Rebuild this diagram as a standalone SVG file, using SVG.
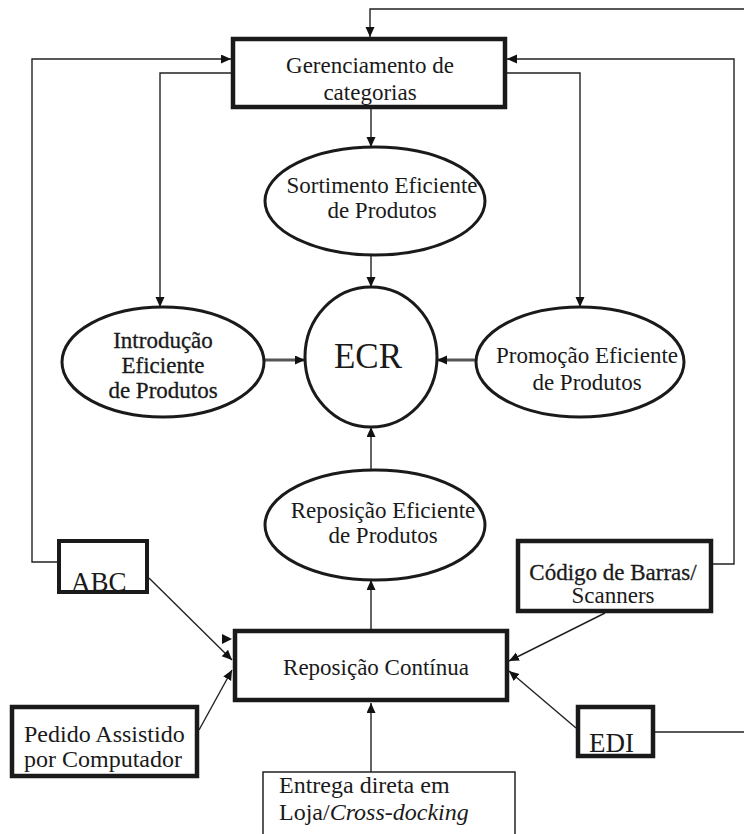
<svg xmlns="http://www.w3.org/2000/svg" width="744" height="834" viewBox="0 0 744 834">
<defs>
<marker id="arr" markerUnits="userSpaceOnUse" markerWidth="11" markerHeight="10" refX="10" refY="4.5" orient="auto">
<path d="M0,0 L10,4.5 L0,9 z" fill="#111"/>
</marker>
</defs>
<style>
.t{font-family:"Liberation Serif","Times New Roman",serif;font-size:23px;fill:#1a1a1a}
.m{text-anchor:middle}
.b{stroke:#1a1a1a;stroke-width:0.3}
.box{fill:#fff;stroke:#1a1a1a;stroke-width:4.5}
.ell{fill:#fff;stroke:#1a1a1a;stroke-width:3}
.c{fill:none;stroke:#222;stroke-width:1.4}
.ct{fill:none;stroke:#555;stroke-width:3}
</style>
<rect width="744" height="834" fill="#fff"/>
<g id="connectors">
<polyline class="c" points="744,9 370,9 370,37" marker-end="url(#arr)"/>
<polyline class="c" points="57,562 32,562 32,59 231,59" marker-end="url(#arr)"/>
<polyline class="c" points="713,564 734,564 734,59 507,59" marker-end="url(#arr)"/>
<polyline class="c" points="231,73 160,73 160,307" marker-end="url(#arr)"/>
<polyline class="c" points="507,73 580,73 580,307" marker-end="url(#arr)"/>
<line class="c" x1="371" y1="109" x2="371" y2="147" marker-end="url(#arr)"/>
<line class="c" x1="371" y1="255" x2="371" y2="287" marker-end="url(#arr)"/>
<line class="ct" x1="264" y1="360" x2="305" y2="360" marker-end="url(#arr)"/>
<line class="ct" x1="477" y1="360" x2="437" y2="360" marker-end="url(#arr)"/>
<line class="c" x1="371" y1="470" x2="371" y2="427" marker-end="url(#arr)"/>
<line class="c" x1="371" y1="629" x2="371" y2="580" marker-end="url(#arr)"/>
<line class="c" x1="371" y1="772" x2="371" y2="703" marker-end="url(#arr)"/>
<line class="c" x1="149" y1="578" x2="232" y2="660" marker-end="url(#arr)"/>
<line class="c" x1="199" y1="730" x2="232" y2="670" marker-end="url(#arr)"/>
<polygon points="222,634 232,639 222,644" fill="#111"/>
<line class="c" x1="605" y1="613" x2="509" y2="661" marker-end="url(#arr)"/>
<line class="c" x1="576" y1="728" x2="509" y2="671" marker-end="url(#arr)"/>
<line class="c" x1="654" y1="732" x2="744" y2="732"/>
</g>
<g id="gerenciamento">
<rect class="box" x="233" y="39" width="272" height="68"/>
<text class="t m" x="370" y="73">Gerenciamento de</text>
<text class="t m" x="370" y="100">categorias</text>
</g>
<g id="sortimento">
<ellipse class="ell" cx="375" cy="201" rx="110" ry="54"/>
<text class="t m" x="382" y="193">Sortimento Eficiente</text>
<text class="t m" x="382" y="218">de Produtos</text>
</g>
<g id="ecr">
<ellipse class="ell" cx="371" cy="357" rx="66" ry="70"/>
<text class="t m" x="368" y="368" style="font-size:35px">ECR</text>
</g>
<g id="introducao">
<ellipse class="ell" cx="163" cy="362" rx="101" ry="55"/>
<text class="t m b" x="163" y="348">Introdução</text>
<text class="t m b" x="163" y="373">Eficiente</text>
<text class="t m b" x="163" y="398">de Produtos</text>
</g>
<g id="promocao">
<ellipse class="ell" cx="580" cy="362" rx="104" ry="55"/>
<text class="t m" x="587" y="363">Promoção Eficiente</text>
<text class="t m" x="587" y="390">de Produtos</text>
</g>
<g id="reposicao-eficiente">
<ellipse class="ell" cx="375" cy="525" rx="110" ry="55"/>
<text class="t m" x="383" y="518">Reposição Eficiente</text>
<text class="t m" x="383" y="543">de Produtos</text>
</g>
<g id="abc">
<rect class="box" x="59" y="541" width="88" height="51" style="stroke-width:4"/>
<text class="t" x="71" y="591" style="font-size:27px">ABC</text>
</g>
<g id="codigo">
<rect class="box" x="518" y="541" width="193" height="70"/>
<text class="t m b" x="613" y="580">Código de Barras/</text>
<text class="t m" x="613" y="603">Scanners</text>
</g>
<g id="reposicao-continua">
<rect class="box" x="235" y="631" width="272" height="69"/>
<text class="t m" x="376" y="675">Reposição Contínua</text>
</g>
<g id="pedido">
<rect class="box" x="12" y="707" width="185" height="69"/>
<text class="t" x="24" y="742" style="font-size:24px">Pedido Assistido</text>
<text class="t" x="24" y="767" style="font-size:24px">por Computador</text>
</g>
<g id="edi">
<rect class="box" x="578" y="707" width="75" height="49"/>
<text class="t" x="589" y="752" style="font-size:27px">EDI</text>
</g>
<g id="entrega">
<rect x="263" y="772" width="252" height="80" fill="#fff" stroke="#222" stroke-width="1.5"/>
<text class="t" x="279" y="793" style="font-size:24px">Entrega direta em</text>
<text class="t" x="279" y="820" style="font-size:24px">Loja/<tspan font-style="italic">Cross-docking</tspan></text>
</g>
</svg>
